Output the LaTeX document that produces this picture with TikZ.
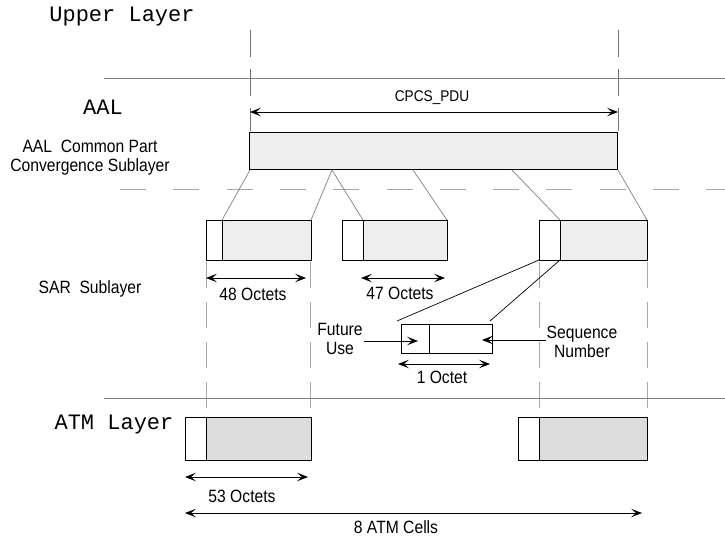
\documentclass[tikz,border=0pt]{standalone}
\usepackage{fontspec}
\setmainfont{Liberation Sans}[FakeStretch=0.88]
\newfontfamily\monofam{Liberation Mono}
\usetikzlibrary{arrows.meta,calc}
\definecolor{lgray}{HTML}{EEEEEE}
\definecolor{mgray}{HTML}{DDDDDD}
\definecolor{lineg}{HTML}{808080}
\definecolor{dashg}{HTML}{A8A8A8}
\definecolor{topg}{HTML}{707070}
\tikzset{
  monolab/.style={font=\monofam\fontsize{22}{24}\selectfont, inner sep=0pt},
  sanslab/.style={font=\fontsize{17.8}{19}\selectfont, inner sep=0pt, align=center},
  pdulab/.style={font=\fontsize{15.5}{18}\selectfont, inner sep=0pt},
  cellbox/.style={draw=black, line width=1pt, inner sep=0pt, outer sep=0pt, anchor=north west},
  layerline/.style={draw=lineg, line width=0.9pt},
  topdash/.style={draw=topg, line width=0.8pt, dash pattern=on 27pt off 12pt},
  lowdash/.style={draw=dashg, line width=1pt, dash pattern=on 26pt off 14pt},
  hdash/.style={draw=dashg, line width=1pt, dash pattern=on 26pt off 27.3pt},
  fanline/.style={draw=lineg, line width=0.7pt},
  thinline/.style={draw=black, line width=0.7pt},
  tip/.tip={Stealth[length=11pt,width=8.5pt,inset=5pt]},
  dimarrow/.style={draw=black, line width=0.8pt, tip-tip},
  onearrow/.style={draw=black, line width=0.8pt, -tip}
}
\begin{document}
\begin{tikzpicture}[x=1pt,y=-1pt]
\useasboundingbox (0,0) rectangle (725,539);

% ---------- Upper layer / AAL ----------
\node[monolab] (upper) at (122,17) {Upper Layer};
\coordinate (hlAa) at (104,78);
\coordinate (hlAb) at (725,78);
\draw[layerline] (hlAa) -- (hlAb);
\node[monolab] (aal) at (103,107) {AAL};

\coordinate (vAt) at (250,30);
\coordinate (vAb) at (250,131);
\coordinate (vBt) at (618,30);
\coordinate (vBb) at (618,131);
\draw[topdash] (vAt) -- (vAb);
\draw[topdash] (vBt) -- (vBb);

\coordinate (pduL) at (250,112);
\coordinate (pduR) at (618,112);
\draw[dimarrow] (pduL) -- (pduR);
\node[pdulab] (pdu) at (432,98) {CPCS\_PDU};

\node[cellbox, fill=lgray, minimum width=368pt, minimum height=37pt] (cpcs) at (249,132) {};
\node[sanslab] (cpcslab) at (90,158) {AAL\ \ Common Part\\Convergence Sublayer};

\coordinate (hdL) at (120,189);
\coordinate (hdR) at (725,189);
\draw[hdash] (hdL) -- (hdR);

% ---------- SAR sublayer ----------
\node[cellbox, fill=white, minimum width=16pt, minimum height=40pt] (h1) at (206,220) {};
\node[cellbox, fill=lgray, minimum width=89pt, minimum height=40pt] (p1) at (222,220) {};
\node[cellbox, fill=white, minimum width=21pt, minimum height=40pt] (h2) at (342,220) {};
\node[cellbox, fill=lgray, minimum width=84pt, minimum height=40pt] (p2) at (363,220) {};
\node[cellbox, fill=white, minimum width=21pt, minimum height=40pt] (h3) at (539,220) {};
\node[cellbox, fill=lgray, minimum width=87pt, minimum height=40pt] (p3) at (560,220) {};

\coordinate (fa) at (250,170);
\coordinate (fb) at (332,170);
\coordinate (fc) at (413,170);
\coordinate (fd) at (512,170);
\coordinate (fe) at (618,170);
\draw[fanline] (fa) -- (p1.north west);
\draw[fanline] (fb) -- (p1.north east);
\draw[fanline] (fb) -- (p2.north west);
\draw[fanline] (fc) -- (p2.north east);
\draw[fanline] (fd) -- (p3.north west);
\draw[fanline] (fe) -- (p3.north east);

\node[sanslab] (sar) at (90,289) {SAR\ \ Sublayer};

\coordinate (dAt) at (206,262); \coordinate (dAb) at (206,408);
\coordinate (dBt) at (310,262); \coordinate (dBb) at (310,408);
\coordinate (dCt) at (539,262); \coordinate (dCb) at (539,408);
\coordinate (dDt) at (647,262); \coordinate (dDb) at (647,408);
\draw[lowdash] (dAt) -- (dAb);
\draw[lowdash] (dBt) -- (dBb);
\draw[lowdash] (dCt) -- (dCb);
\draw[lowdash] (dDt) -- (dDb);

\coordinate (o48L) at (206,278);
\coordinate (o48R) at (306,278);
\draw[dimarrow] (o48L) -- (o48R);
\node[sanslab] (l48) at (253,294) {48 Octets};

\coordinate (o47L) at (361,278);
\coordinate (o47R) at (445,278);
\draw[dimarrow] (o47L) -- (o47R);
\node[sanslab] (l47) at (400,293) {47 Octets};

% ---------- header octet detail ----------
\node[cellbox, line width=0.8pt, fill=white, minimum width=91pt, minimum height=29pt] (oct) at (401,324) {};
\coordinate (divT) at (429,324);
\coordinate (divB) at (429,353);
\draw[thinline] (divT) -- (divB);

\coordinate (zA) at (397,321);
\coordinate (zB) at (490,321);
\draw[thinline] (h3.south west) -- (zA);
\draw[thinline] (h3.south east) -- (zB);

\node[sanslab] (fut) at (340,339) {Future\\Use};
\coordinate (futS) at (364,341);
\coordinate (futE) at (418,341);
\draw[onearrow] (futS) -- (futE);

\node[sanslab] (seq) at (582,342) {Sequence\\Number};
\coordinate (seqS) at (546,340);
\coordinate (seqE) at (482,340);
\draw[onearrow] (seqS) -- (seqE);

\coordinate (o1L) at (398,364);
\coordinate (o1R) at (490,364);
\draw[dimarrow] (o1L) -- (o1R);
\node[sanslab] (l1) at (442,377) {1 Octet};

% ---------- ATM layer ----------
\coordinate (hlBa) at (104,398);
\coordinate (hlBb) at (725,398);
\draw[layerline] (hlBa) -- (hlBb);
\node[monolab] (atm) at (114,425) {ATM Layer};

\node[cellbox, fill=white, minimum width=21pt, minimum height=43pt] (ah1) at (185,417) {};
\node[cellbox, fill=mgray, minimum width=105pt, minimum height=43pt] (ap1) at (206,417) {};
\node[cellbox, fill=white, minimum width=21pt, minimum height=43pt] (ah2) at (518,417) {};
\node[cellbox, fill=mgray, minimum width=108pt, minimum height=43pt] (ap2) at (539,417) {};

\coordinate (o53L) at (185,477);
\coordinate (o53R) at (308,477);
\draw[dimarrow] (o53L) -- (o53R);
\node[sanslab] (l53) at (242,496) {53 Octets};

\coordinate (c8L) at (185,513);
\coordinate (c8R) at (642,513);
\draw[dimarrow] (c8L) -- (c8R);
\node[sanslab] (l8) at (396,527) {8 ATM Cells};
\end{tikzpicture}
\end{document}
